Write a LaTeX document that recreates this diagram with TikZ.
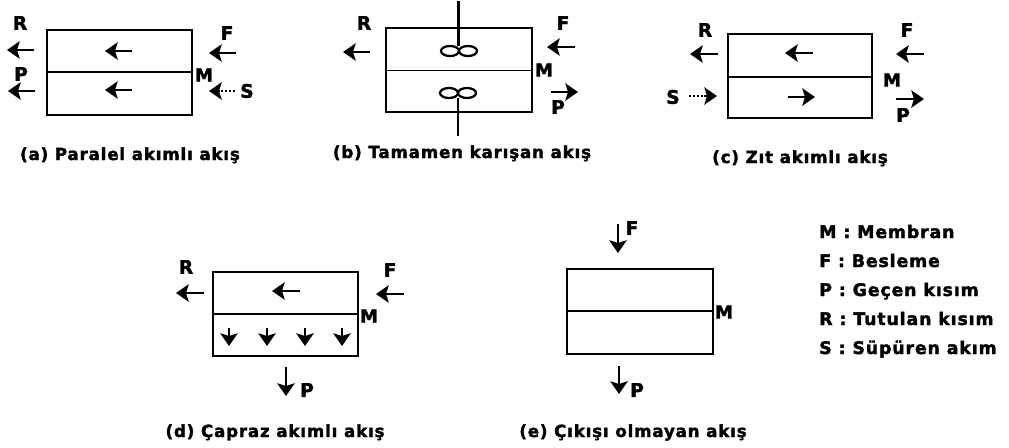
\documentclass[tikz,border=0pt]{standalone}
\usepackage{fontspec}
\setmainfont[BoldFont={DejaVu Sans Bold}, BoldFeatures={FakeBold=2, LetterSpace=5}]{DejaVu Sans}
\usetikzlibrary{arrows.meta}
\tikzset{
	kutu/.style={line width=1.1pt},
	akis/.style={-{Stealth[length=9.5pt, width=13pt, inset=2pt]}, line width=2.2pt},
	seyrek/.style={akis, dash pattern=on 1.6pt off 1.3pt},
	harf/.style={font=\bfseries\fontsize{14}{14}\selectfont, inner sep=0pt},
	zar/.style={font=\bfseries\fontsize{13.5}{14}\selectfont, inner sep=0pt},
	baslik/.style={font=\bfseries\fontsize{12.5}{14}\selectfont, inner sep=0pt, anchor=base},
	lejant/.style={font=\bfseries\fontsize{13}{14}\selectfont, inner sep=0pt, anchor=base west},
	karistirici/.style={line width=1.7pt}
}
\begin{document}
\begin{tikzpicture}[x=0.75pt, y=-0.75pt]
	\useasboundingbox (0,0) rectangle (1009,447);

	% (a)
	\draw[kutu] (47,30) rectangle (192,115);
	\draw[kutu] (47,72) -- (192,72);
	\draw[akis] (34,50) -- (7,50);
	\draw[akis] (35,91) -- (8,91);
	\draw[akis] (132,51) -- (105,51);
	\draw[akis] (132,90) -- (105,90);
	\draw[akis] (236,53) -- (209,53);
	\draw[seyrek] (235,91) -- (209,91);
	\node[harf] (Ra) at (20,23) {R};
	\node[harf] (Pa) at (21,74) {P};
	\node[harf] (Fa) at (227,33) {F};
	\node[zar] (Ma) at (204,75) {M};
	\node[harf] (Sa) at (247,91) {S};
	\node[baslik] (capa) at (130,160) {(a) Paralel akımlı akış};

	% (b)
	\draw[kutu] (386,28) rectangle (532,112);
	\draw[kutu] (386,70.5) -- (532,70.5);
	\draw[karistirici] (458.5,1) -- (458.5,46);
	\draw[karistirici] (458,98) -- (458,136);
	\draw[karistirici] (450,51) ellipse (9 and 5);
	\draw[karistirici] (468,51) ellipse (9 and 5);
	\draw[karistirici] (449,93) ellipse (9 and 5);
	\draw[karistirici] (467,93) ellipse (9 and 5);
	\draw[akis] (370,52) -- (343,52);
	\draw[akis] (575,47) -- (547,47);
	\draw[akis] (551,92) -- (578,92);
	\node[harf] (Rb) at (364,23) {R};
	\node[harf] (Fb) at (563,23) {F};
	\node[zar] (Mb) at (544,70) {M};
	\node[harf] (Pb) at (558,107) {P};
	\node[baslik] (capb) at (462,158) {(b) Tamamen karışan akış};

	% (c)
	\draw[kutu] (728,34) rectangle (872,118);
	\draw[kutu] (728,77) -- (872,77);
	\draw[akis] (718,54) -- (690,54);
	\draw[akis] (813,53) -- (785,53);
	\draw[akis] (924,54) -- (896,54);
	\draw[seyrek] (689,96) -- (717,96);
	\draw[akis] (788,97) -- (815,97);
	\draw[akis] (896,99) -- (924,99);
	\node[harf] (Rc) at (705,30) {R};
	\node[harf] (Fc) at (907,30) {F};
	\node[harf] (Sc) at (673,97) {S};
	\node[zar] (Mc) at (892,80) {M};
	\node[harf] (Pc) at (903,115) {P};
	\node[baslik] (capc) at (800,163) {(c) Zıt akımlı akış};

	% (d)
	\draw[kutu] (213,272) rectangle (358,356);
	\draw[kutu] (213,314) -- (358,314);
	\draw[akis] (204,293) -- (176,293);
	\draw[akis] (300,291) -- (272,291);
	\draw[akis] (404,294) -- (376,294);
	\foreach \xk in {229,267,305,342}
		\draw[akis] (\xk,328) -- (\xk,346);
	\draw[akis] (286,367) -- (286,396);
	\node[harf] (Rd) at (186,267) {R};
	\node[harf] (Fd) at (390,270) {F};
	\node[zar] (Md) at (369,316) {M};
	\node[harf] (Pd) at (307,390) {P};
	\node[baslik] (capd) at (275,437) {(d) Çapraz akımlı akış};

	% (e)
	\draw[kutu] (567,269) rectangle (713,354);
	\draw[kutu] (567,311) -- (713,311);
	\draw[akis] (618,224) -- (618,253);
	\draw[akis] (619,366) -- (619,394);
	\node[harf] (Fe) at (632,228) {F};
	\node[zar] (Me) at (724,312) {M};
	\node[harf] (Pe) at (637,390) {P};
	\node[baslik] (cape) at (633,437) {(e) Çıkışı olmayan akış};

	% semboller
	\node[lejant] (lejM) at (819,238) {M : Membran};
	\node[lejant] (lejF) at (819,267) {F : Besleme};
	\node[lejant] (lejP) at (819,296) {P : Geçen kısım};
	\node[lejant] (lejR) at (819,325) {R : Tutulan kısım};
	\node[lejant] (lejS) at (819,354) {S : Süpüren akım};
\end{tikzpicture}
\end{document}
